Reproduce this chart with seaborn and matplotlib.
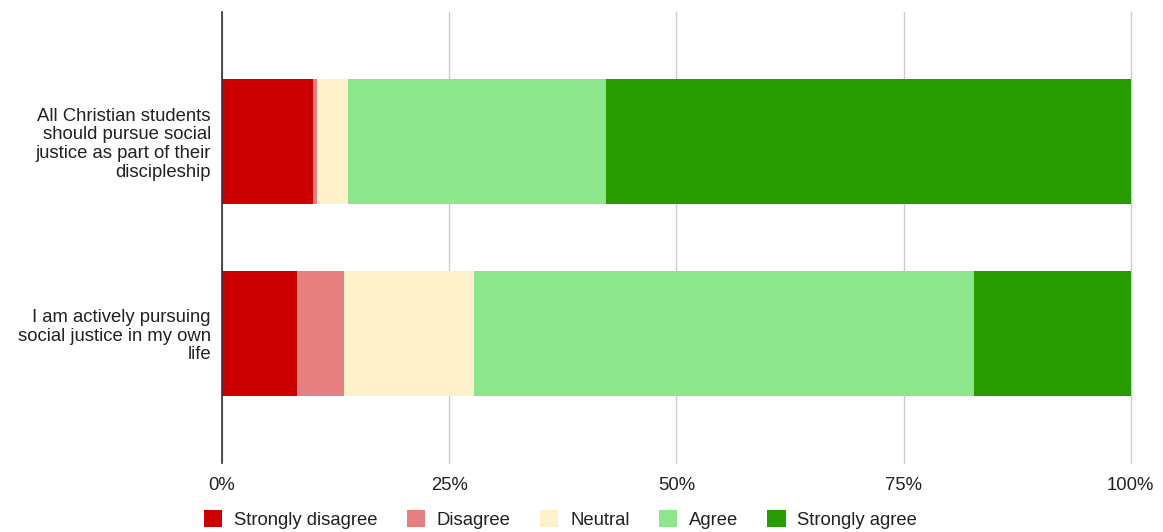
import matplotlib
matplotlib.use("Agg")
import matplotlib.pyplot as plt
import seaborn as sns
import pandas as pd
import numpy as np
from matplotlib.patches import Patch
from matplotlib.ticker import FixedLocator, FuncFormatter

categories = ["All Christian students\nshould pursue social\njustice as part of their\ndiscipleship",
              "I am actively pursuing\nsocial justice in my own\nlife"]
series_names = ["Strongly disagree", "Disagree", "Neutral", "Agree", "Strongly agree"]
strongly_disagree = [10.0, 8.3]
disagree = [0.5, 5.1]
neutral = [3.4, 14.3]
agree = [28.4, 55.1]
strongly_agree = [57.7, 17.2]
colors = ["#cc0000", "#e67f7f", "#fff0cc", "#8ee68c", "#289b00"]
tick_values = [0, 25, 50, 75, 100]

sns.set_theme(style="white")
plt.rcParams['font.family'] = ['Liberation Sans', 'DejaVu Sans']

fig = plt.figure(figsize=(11.63, 5.32), dpi=100)
ax = fig.add_axes([0.1909, 0.1297, 0.9722 - 0.1909, 0.9774 - 0.1297])

series = [strongly_disagree, disagree, neutral, agree, strongly_agree]
cum = np.cumsum(np.array(series), axis=0)
for i in reversed(range(len(series))):
    df = pd.DataFrame({"cat": categories, "val": cum[i]})
    sns.barplot(data=df, y="cat", x="val", orient="h", color=colors[i],
                width=0.65, ax=ax, saturation=1, linewidth=0, zorder=3)

ax.set_xlim(0, 100)
ax.set_ylim(1.674, -0.674)
ax.xaxis.set_major_locator(FixedLocator(tick_values))
ax.xaxis.set_major_formatter(FuncFormatter(lambda v, p: f"{int(v)}%"))
ax.grid(axis="x", color="#cccccc", linewidth=1, zorder=0)
for gl in ax.get_xgridlines():
    gl.set_clip_on(False)
ax.grid(axis="y", visible=False)
for s in ["top", "right", "bottom"]:
    ax.spines[s].set_visible(False)
ax.spines["left"].set_color("#333333")
ax.spines["left"].set_linewidth(1.2)
ax.spines["left"].set_zorder(5)
ax.set_xlabel("")
ax.set_ylabel("")
ax.tick_params(axis="x", length=0, labelsize=13.3, colors="#222222", pad=10)
ax.tick_params(axis="y", length=0, labelsize=13.3, colors="#222222", pad=8)
for lbl in ax.get_yticklabels():
    lbl.set_multialignment("right")
    lbl.set_linespacing(1.12)

handles = [Patch(facecolor=c, edgecolor="none", label=n) for c, n in zip(colors, series_names)]
fig.legend(handles=handles, loc="lower center", bbox_to_anchor=(0.482, -0.025), ncol=5,
           frameon=False, fontsize=13.3, handlelength=1.0, handleheight=1.0,
           handletextpad=0.64, columnspacing=1.57, labelcolor="#222222")

fig.savefig("out.png", dpi=100)
